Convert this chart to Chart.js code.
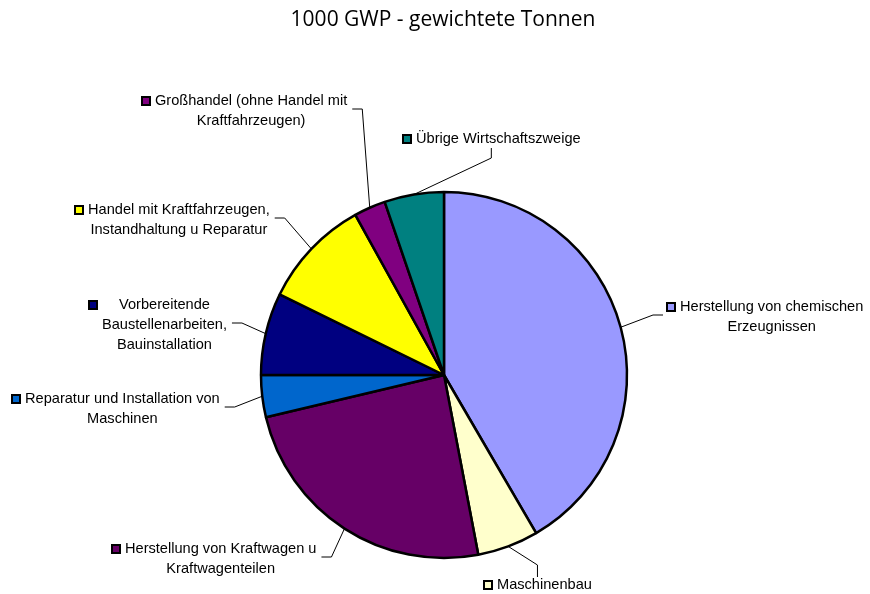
<!DOCTYPE html>
<html>
<head>
<meta charset="utf-8">
<script src="https://cdn.jsdelivr.net/npm/chart.js@4.4.1/dist/chart.umd.min.js"></script>
<style>
  html, body { margin: 0; padding: 0; background: #fff; }
  #wrap { width: 870px; height: 594px; position: relative; }
</style>
</head>
<body>
<div id="wrap"><canvas id="chart" width="870" height="594"></canvas></div>
<script>
// Data (share of the pie in per mille)
const categories = [
    'Herstellung von chemischen Erzeugnissen',
    'Maschinenbau',
    'Herstellung von Kraftwagen u Kraftwagenteilen',
    'Reparatur und Installation von Maschinen',
    'Vorbereitende Baustellenarbeiten, Bauinstallation',
    'Handel mit Kraftfahrzeugen, Instandhaltung u Reparatur',
    'Großhandel (ohne Handel mit Kraftfahrzeugen)',
    'Übrige Wirtschaftszweige'
];
const values = [416, 54, 243, 37, 72.5, 97, 28, 52.5];
const colors = ['#9999FF', '#FFFFCC', '#660066', '#0066CC', '#000080', '#FFFF00', '#800080', '#008080'];

// How each label is broken into lines
const labelLines = [
    ['Herstellung von chemischen', 'Erzeugnissen'],
    ['Maschinenbau'],
    ['Herstellung von Kraftwagen u', 'Kraftwagenteilen'],
    ['Reparatur und Installation von', 'Maschinen'],
    ['Vorbereitende', 'Baustellenarbeiten,', 'Bauinstallation'],
    ['Handel mit Kraftfahrzeugen,', 'Instandhaltung u Reparatur'],
    ['Großhandel (ohne Handel mit', 'Kraftfahrzeugen)'],
    ['Übrige Wirtschaftszweige']
];
// label placement: text block left, first line centre, side where leader attaches
const labelLayout = [
    { x: 680, y: 307, side: 'left' },
    { x: 497, y: 585, side: 'top' },
    { x: 125, y: 549, side: 'right' },
    { x: 25,  y: 399, side: 'right' },
    { x: 102, y: 305, side: 'right' },
    { x: 88,  y: 210, side: 'right' },
    { x: 155, y: 101, side: 'right' },
    { x: 416, y: 139, side: 'bottom' }
];

const LABEL_FONT = '14.6px "Liberation Sans", Arial, sans-serif';
const LINE_H = 20;

const titlePlugin = {
    id: 'titleText',
    afterDraw(chart) {
        const ctx = chart.ctx;
        ctx.save();
        ctx.fillStyle = '#000';
        ctx.font = '21px "Open Sans", sans-serif';
        ctx.textAlign = 'center';
        ctx.textBaseline = 'middle';
        ctx.fillText('1000 GWP - gewichtete Tonnen', 443, 20);
        ctx.restore();
    }
};

const labelPlugin = {
    id: 'sliceLabels',
    afterDatasetsDraw(chart) {
        const ctx = chart.ctx;
        const arcs = chart.getDatasetMeta(0).data;
        ctx.save();
        ctx.font = LABEL_FONT;
        arcs.forEach((arc, i) => {
            const lines = labelLines[i];
            const lay = labelLayout[i];
            const widths = lines.map(l => ctx.measureText(l).width);
            const textW = Math.max(...widths);
            const keyX = lay.x - 14;
            const top = lay.y - LINE_H / 2;
            const bottom = lay.y + LINE_H * (lines.length - 1) + LINE_H / 2 - 4;
            const midY = (top + bottom) / 2;
            const left = keyX;
            const right = lay.x + textW;
            const cx = (left + right) / 2;

            // leader line from the middle of the slice's arc
            const p = arc.getProps(['x', 'y', 'startAngle', 'endAngle', 'outerRadius']);
            const mid = (p.startAngle + p.endAngle) / 2;
            const ax = p.x + Math.cos(mid) * p.outerRadius;
            const ay = p.y + Math.sin(mid) * p.outerRadius;
            let ex, ey, tx, ty;
            if (lay.side === 'left') { tx = left - 3; ty = midY; ex = tx - 10; ey = ty; }
            if (lay.side === 'right') { tx = right + 5; ty = midY; ex = tx + 10; ey = ty; }
            if (lay.side === 'top') { tx = cx; ty = top + 2; ex = tx; ey = ty - 12; }
            if (lay.side === 'bottom') { tx = cx; ty = bottom + 3; ex = tx; ey = ty + 10; }
            ctx.strokeStyle = '#000';
            ctx.lineWidth = 1;
            ctx.beginPath();
            ctx.moveTo(ax, ay);
            ctx.lineTo(ex, ey);
            ctx.lineTo(tx, ty);
            ctx.stroke();

            // legend key
            ctx.fillStyle = '#000';
            ctx.fillRect(keyX, lay.y - 5, 10, 10);
            ctx.fillStyle = colors[i];
            ctx.fillRect(keyX + 2, lay.y - 3, 6, 6);

            // text, every line centred in the block
            ctx.fillStyle = '#000';
            ctx.textAlign = 'center';
            ctx.textBaseline = 'middle';
            lines.forEach((l, k) => {
                ctx.fillText(l, lay.x + textW / 2, lay.y + k * LINE_H);
            });
        });
        ctx.restore();
    }
};

new Chart(document.getElementById('chart'), {
    type: 'pie',
    data: {
        labels: categories,
        datasets: [{
            data: values,
            backgroundColor: colors,
            borderColor: '#000',
            borderWidth: 2.5
        }]
    },
    options: {
        responsive: false,
        animation: false,
        radius: 183,
        layout: { padding: { top: 192, bottom: 36, left: 144, right: 126 } },
        plugins: {
            legend: { display: false },
            tooltip: { enabled: false },
            title: { display: false }
        }
    },
    plugins: [titlePlugin, labelPlugin]
});
</script>
</body>
</html>
